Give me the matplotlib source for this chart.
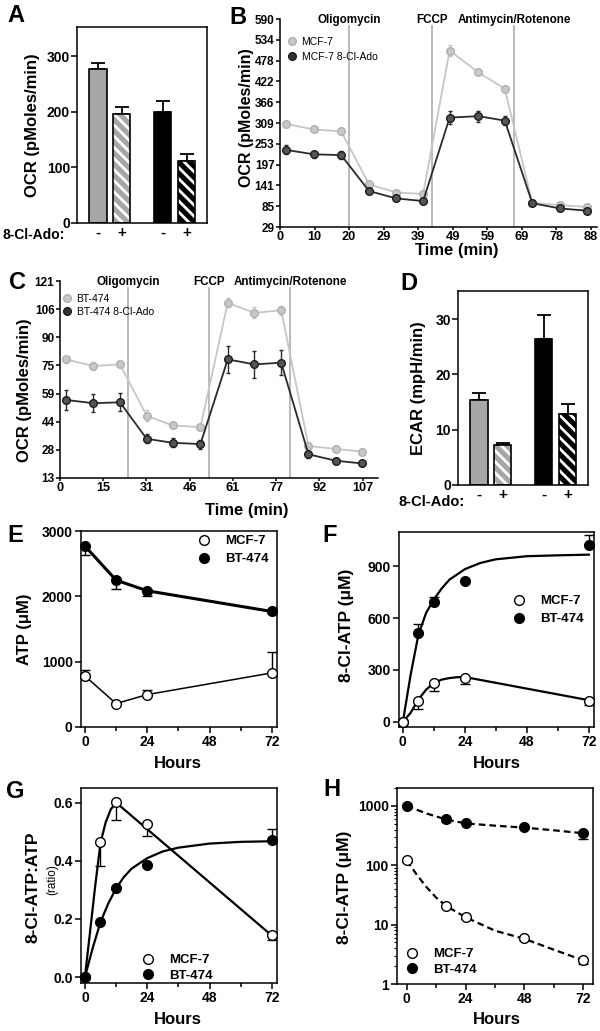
import numpy as np
import matplotlib
matplotlib.use("Agg")
import matplotlib.pyplot as plt
from matplotlib.lines import Line2D

plt.rcParams['font.family'] = ['Liberation Sans', 'DejaVu Sans']
plt.rcParams['font.weight'] = 'bold'
plt.rcParams['axes.linewidth'] = 1.1
plt.rcParams['hatch.linewidth'] = 2.0
plt.rcParams['xtick.major.width'] = 1.1
plt.rcParams['ytick.major.width'] = 1.1
plt.rcParams['xtick.minor.width'] = 1.1
plt.rcParams['ytick.minor.width'] = 0.8

# ---- data ----
# A: basal OCR (MCF-7 -, +, BT-474 -, +)
ocr_bar = [278, 196, 200, 112]
ocr_err = [10, 13, 20, 13]
treat_labels = ['-', '+', '-', '+']

# B: MCF-7 Seahorse trace
b_time = [1.7, 9.6, 17.3, 25.2, 32.9, 40.5, 48.0, 56.1, 63.6, 71.4, 79.3, 86.9]
b_ctrl = [307, 292, 287, 144, 122, 118, 505, 446, 402, 94, 88, 83]
b_ctrl_err = [5, 4, 4, 5, 4, 4, 15, 5, 5, 3, 3, 3]
b_clado = [237, 225, 223, 126, 106, 99, 324, 328, 316, 93, 79, 73]
b_clado_err = [12, 10, 10, 6, 6, 6, 18, 15, 12, 5, 4, 4]
b_inject = [19.5, 43.1, 66.3]
b_yticklabels = ['29', '85', '141', '197', '253', '309', '366', '422', '478', '534', '590']
b_xticklabels = ['0', '10', '20', '29', '39', '49', '59', '69', '78', '88']

# C: BT-474 Seahorse trace
c_time = [2.1, 11.9, 21.3, 30.8, 40.0, 49.9, 59.6, 69.1, 78.6, 88.3, 97.9, 107.2]
c_ctrl = [78.0, 74.4, 75.3, 47.2, 41.8, 40.9, 109.0, 103.5, 105.0, 30.5, 29.0, 27.5]
c_ctrl_err = [2, 2, 1.5, 3, 1.5, 1.5, 2.5, 3, 2.5, 1.5, 1.5, 1.5]
c_clado = [55.8, 54.0, 54.5, 34.5, 32.3, 31.6, 78.0, 75.3, 76.2, 26.0, 22.5, 21.0]
c_clado_err = [5.5, 5, 5, 2.5, 2.5, 2.5, 7.5, 7.5, 7, 2, 1.5, 1.5]
c_inject = [24.3, 53.1, 81.8]
c_yticklabels = ['13', '28', '44', '59', '75', '90', '106', '121']
c_xticklabels = ['0', '15', '31', '46', '61', '77', '92', '107']
injections = ['Oligomycin', 'FCCP', 'Antimycin/Rotenone']

# D: ECAR
ecar_bar = [15.4, 7.3, 26.4, 12.8]
ecar_err = [1.2, 0.3, 4.4, 1.9]

hours = [0, 12, 24, 72]
hours_f = [0, 6, 12, 24, 72]
hours_h = [0, 16, 24, 48, 72]

# E: ATP
e_mcf = [782, 358, 496, 828]
e_mcf_err = [87, 20, 76, 327]
e_bt = [2770, 2248, 2085, 1768]
e_bt_err = [130, 130, 80, 20]

# F: 8-Cl-ATP
f_mcf = [0, 123, 222, 256, 123]
f_mcf_err = [0, 46, 43, 40, 27]
f_bt = [0, 514, 694, 813, 1025]
f_bt_err = [0, 54, 28, 0, 54]
f_fit_t_bt = [0, 3, 6, 9, 12, 15, 18, 24, 30, 36, 48, 60, 72]
f_fit_bt = [0, 272, 503, 630, 708, 771, 822, 883, 919, 940, 958, 963, 967]
f_fit_t_mcf = [0, 3, 6, 9, 12, 15, 18, 21, 24, 72]
f_fit_mcf = [0, 52, 129, 186, 225, 244, 253, 258, 259, 125]

# G: ratio
g_mcf = [0, 0.464, 0.603, 0.526, 0.144]
g_mcf_err = [0, 0.082, 0.063, 0.042, 0.016]
g_bt = [0, 0.188, 0.306, 0.386, 0.472]
g_bt_err = [0, 0, 0, 0, 0.038]
g_fit_t_mcf = [0, 2, 4, 6, 8, 10, 12, 72]
g_fit_mcf = [0, 0.157, 0.316, 0.461, 0.532, 0.577, 0.600, 0.143]
g_fit_t_bt = [0, 3, 6, 9, 12, 15, 18, 24, 30, 36, 48, 60, 72]
g_fit_bt = [0, 0.10, 0.189, 0.253, 0.305, 0.344, 0.373, 0.409, 0.432, 0.445, 0.459, 0.465, 0.467]

# H: 8-Cl-ATP decay (log)
h_mcf = [124, 20.7, 13.3, 5.99, 2.51]
h_mcf_err = [12, 1, 1, 0.5, 0.3]
h_bt = [1000, 604, 511, 449, 346]
h_bt_err = [0, 79, 20, 20, 70]
h_fit_t_mcf = [0, 4, 8, 12, 16, 24, 36, 48, 60, 72]
h_fit_mcf = [120, 70, 43, 28.5, 20.7, 13.3, 7.9, 5.77, 3.78, 2.51]
h_fit_t_bt = [0, 8, 16, 24, 36, 48, 60, 72]
h_fit_bt = [1000, 745, 591, 507, 464, 430, 388, 346]

W, H = 600, 1031
fig = plt.figure(figsize=(6, 10.31), dpi=100)


def add_ax(x0, y0, x1, y1):
    return fig.add_axes([x0 / W, 1 - y1 / H, (x1 - x0) / W, (y1 - y0) / H])


def ftext(px, py, s, **kw):
    kw.setdefault('ha', 'center')
    kw.setdefault('va', 'center')
    fig.text(px / W, 1 - py / H, s, **kw)


def legend_px(ax, box, handles, labels, px, py, fs, **kw):
    x0, y0, x1, y1 = box
    ax.legend(handles, labels, loc='upper left',
              bbox_to_anchor=((px - x0) / (x1 - x0), (y1 - py) / (y1 - y0)),
              frameon=False, fontsize=fs, borderpad=0, borderaxespad=0, **kw)


GRAY = '#a6a6a6'


def bar_panel(box, vals, errs, ymax, yticks):
    ax = add_ax(*box)
    pos = np.array([0, 1, 2.7, 3.7])
    faces = [GRAY, GRAY, 'black', 'black']
    for i in range(4):
        if i % 2 == 0:
            ax.bar(pos[i], vals[i], 0.72, color=faces[i], edgecolor='black', lw=1.2, zorder=2)
        else:
            ax.bar(pos[i], vals[i], 0.72, color=faces[i], edgecolor='white', lw=0,
                   hatch='\\\\\\', zorder=2)
            ax.bar(pos[i], vals[i], 0.72, fill=False, edgecolor='black', lw=1.2, zorder=3)
    ax.errorbar(pos, vals, yerr=[np.zeros(4), errs], fmt='none', ecolor='black',
                elinewidth=1.3, capsize=5, capthick=1.3, zorder=1)
    ax.set_xlim(-0.87, 4.55)
    ax.set_ylim(0, ymax)
    ax.set_yticks(yticks)
    ax.set_xticks(pos)
    ax.set_xticklabels(treat_labels)
    ax.tick_params(axis='x', length=0, labelsize=11, pad=2)
    ax.tick_params(axis='y', direction='out', length=4, labelsize=10, pad=1)
    return ax


# ---- A ----
boxA = (77, 27, 207, 223)
axA = bar_panel(boxA, ocr_bar, ocr_err, 353, [0, 100, 200, 300])
ftext(33, 125, 'OCR (pMoles/min)', rotation=90, fontsize=12)
ftext(34, 235, '8-Cl-Ado:', fontsize=10)


# ---- B / C ----
def trace_panel(box, t, c, ce, d, de, inj, xlim, ylim, xt, xtl, yt, ytl):
    ax = add_ax(*box)
    for x in inj:
        ax.plot([x, x], [ylim[0], ylim[0] + (ylim[1] - ylim[0]) * 0.965],
                color='#b4b4b4', lw=1.3, zorder=1)
    ax.errorbar(t, c, yerr=ce, fmt='-o', color='#c6c6c6', mfc='#c8c8c8', mec='#b0b0b0',
                ms=5.5, lw=1.3, elinewidth=1, capsize=1.5, zorder=2)
    ax.errorbar(t, d, yerr=de, fmt='-o', color='#2a2a2a', mfc='#555555', mec='#1a1a1a',
                ms=5.5, lw=1.3, elinewidth=1, capsize=1.5, zorder=3)
    ax.set_xlim(*xlim)
    ax.set_ylim(*ylim)
    ax.set_xticks(xt)
    ax.set_xticklabels(xtl)
    ax.set_yticks(yt)
    ax.set_yticklabels(ytl)
    ax.spines['top'].set_visible(False)
    ax.spines['right'].set_visible(False)
    ax.tick_params(axis='x', direction='out', length=2.5, labelsize=9.2, pad=0.5)
    ax.tick_params(axis='y', direction='out', length=3, labelsize=8.5, pad=1)
    ytop = ylim[1] - (ylim[1] - ylim[0]) * 0.005
    for x, s in zip(inj, injections):
        ax.text(x, ytop, s, ha='center', va='center', fontsize=8.4)
    h1 = Line2D([], [], ls='none', marker='o', ms=5.5, mfc='#c8c8c8', mec='#b0b0b0')
    h2 = Line2D([], [], ls='none', marker='o', ms=5.5, mfc='#333333', mec='#1a1a1a')
    return ax, [h1, h2]


boxB = (280, 19, 597, 227)
axB, hB = trace_panel(boxB, b_time, b_ctrl, b_ctrl_err, b_clado, b_clado_err, b_inject,
                      (0, 89.7), (29, 590), np.linspace(0, 88, 10), b_xticklabels,
                      np.linspace(29, 590, 11), b_yticklabels)
legend_px(axB, boxB, hB, ['MCF-7', 'MCF-7 8-Cl-Ado'], 287, 37, 7.5,
          handlelength=1.0, handletextpad=0.4, labelspacing=0.45,
          prop={'weight': 'normal', 'size': 7.5})
ftext(247, 118, 'OCR (pMoles/min)', rotation=90, fontsize=11.5)
ftext(457, 250, 'Time (min)', fontsize=12)

boxC = (60, 281, 378, 478)
axC, hC = trace_panel(boxC, c_time, c_ctrl, c_ctrl_err, c_clado, c_clado_err, c_inject,
                      (0, 113), (13, 121), np.linspace(0, 107.5, 8), c_xticklabels,
                      np.linspace(13, 121, 8), c_yticklabels)
legend_px(axC, boxC, hC, ['BT-474', 'BT-474 8-Cl-Ado'], 62, 294, 7.5,
          handlelength=1.0, handletextpad=0.4, labelspacing=0.3,
          prop={'weight': 'normal', 'size': 7.5})
ftext(25, 390, 'OCR (pMoles/min)', rotation=90, fontsize=12)
ftext(247, 511, 'Time (min)', fontsize=12)

# ---- D ----
boxD = (458, 291, 588, 485)
axD = bar_panel(boxD, ecar_bar, ecar_err, 35.1, [0, 10, 20, 30])
ftext(419, 388, 'ECAR (mpH/min)', rotation=90, fontsize=12)
ftext(432, 502, '8-Cl-Ado:', fontsize=10.5)


# ---- E-H ----
def time_panel(box, xlim, ylim):
    ax = add_ax(*box)
    ax.set_xlim(*xlim)
    ax.set_ylim(*ylim)
    ax.set_xticks([0, 24, 48, 72])
    ax.set_xticks([12, 36, 60], minor=True)
    ax.tick_params(axis='both', which='major', direction='out', length=4, labelsize=10, pad=2)
    ax.tick_params(axis='x', which='minor', direction='out', length=3)
    return ax


def pts(ax, t, y, err, up, filled):
    e = [np.zeros(len(err)), err] if up else [err, np.zeros(len(err))]
    ax.errorbar(t, y, yerr=e, fmt='none', ecolor='black', elinewidth=1, capsize=3.5,
                capthick=1, zorder=2, clip_on=False)
    ax.plot(t, y, 'o', ms=7, mfc='black' if filled else 'white', mec='black', mew=1,
            zorder=4, clip_on=False)


def hand(filled):
    return Line2D([], [], ls='none', marker='o', ms=7, mfc='black' if filled else 'white',
                  mec='black', mew=1)


boxE = (81, 531, 277, 727)
axE = time_panel(boxE, (-1.5, 74), (0, 3000))
axE.set_yticks([0, 1000, 2000, 3000])
axE.plot(hours, e_bt, color='black', lw=2.2, zorder=3)
axE.plot(hours, e_mcf, color='black', lw=1.1, zorder=3)
pts(axE, hours, e_bt, e_bt_err, False, True)
pts(axE, hours, e_mcf, e_mcf_err, True, False)
legend_px(axE, boxE, [hand(False), hand(True)], ['MCF-7', 'BT-474'], 197, 535, 9.5,
          handlelength=1.0, handletextpad=1.1, labelspacing=0.45)
ftext(25, 629, 'ATP (\u03bcM)', rotation=90, fontsize=12)
ftext(178, 763, 'Hours', fontsize=12)

boxF = (399, 532, 594, 727)
axF = time_panel(boxF, (-1.5, 74), (-30, 1098))
axF.set_yticks([0, 300, 600, 900])
axF.plot(f_fit_t_bt, f_fit_bt, color='black', lw=1.6, zorder=3)
axF.plot(f_fit_t_mcf, f_fit_mcf, color='black', lw=1.6, zorder=3)
pts(axF, hours_f, f_bt, f_bt_err, True, True)
pts(axF, hours_f, f_mcf, f_mcf_err, False, False)
legend_px(axF, boxF, [hand(False), hand(True)], ['MCF-7', 'BT-474'], 512, 595, 9.5,
          handlelength=1.0, handletextpad=1.1, labelspacing=0.45)
ftext(347, 625, '8-Cl-ATP (\u03bcM)', rotation=90, fontsize=12.5)
ftext(497, 763, 'Hours', fontsize=12)

boxG = (81, 788, 277, 983)
axG = time_panel(boxG, (-1.5, 74), (-0.02, 0.65))
axG.set_yticks([0, 0.2, 0.4, 0.6])
axG.set_yticklabels(['0.0', '0.2', '0.4', '0.6'])
axG.plot(g_fit_t_mcf, g_fit_mcf, color='black', lw=1.6, zorder=3)
axG.plot(g_fit_t_bt, g_fit_bt, color='black', lw=1.6, zorder=3)
pts(axG, hours_f, g_mcf, g_mcf_err, False, False)
pts(axG, hours_f, g_bt, g_bt_err, True, True)
legend_px(axG, boxG, [hand(False), hand(True)], ['MCF-7', 'BT-474'], 141, 954, 9.5,
          handlelength=1.0, handletextpad=1.1, labelspacing=0.25)
ftext(33, 887, '8-Cl-ATP:ATP', rotation=90, fontsize=12.5)
ftext(52, 880, '(ratio)', rotation=90, fontsize=8.5, fontweight='normal')
ftext(178, 1019, 'Hours', fontsize=12)

boxH = (397, 788, 593, 984)
axH = time_panel(boxH, (-4, 76), (1, 2000))
axH.set_yscale('log')
axH.set_ylim(1, 2000)
axH.set_yticks([1, 10, 100, 1000])
axH.set_yticklabels(['1', '10', '100', '1000'])
axH.tick_params(axis='y', which='minor', direction='out', length=2.5)
axH.plot(h_fit_t_bt, h_fit_bt, color='black', lw=1.6, ls=(0, (3, 1.8)), zorder=3)
axH.plot(h_fit_t_mcf, h_fit_mcf, color='black', lw=1.6, ls=(0, (3, 1.8)), zorder=3)
pts(axH, hours_h, h_bt, h_bt_err, False, True)
pts(axH, hours_h, h_mcf, h_mcf_err, False, False)
legend_px(axH, boxH, [hand(False), hand(True)], ['MCF-7', 'BT-474'], 405, 948, 9.5,
          handlelength=1.0, handletextpad=1.1, labelspacing=0.25)
ftext(345, 887, '8-Cl-ATP (\u03bcM)', rotation=90, fontsize=12.5)
ftext(497, 1020, 'Hours', fontsize=12)

# panel letters
for s, x, y in [('A', 16, 16), ('B', 238, 18), ('C', 17, 282), ('D', 409, 284),
                ('E', 15, 535), ('F', 330, 535), ('G', 15, 791), ('H', 332, 789)]:
    ftext(x, y, s, fontsize=17)

fig.savefig('out.png', dpi=100)
